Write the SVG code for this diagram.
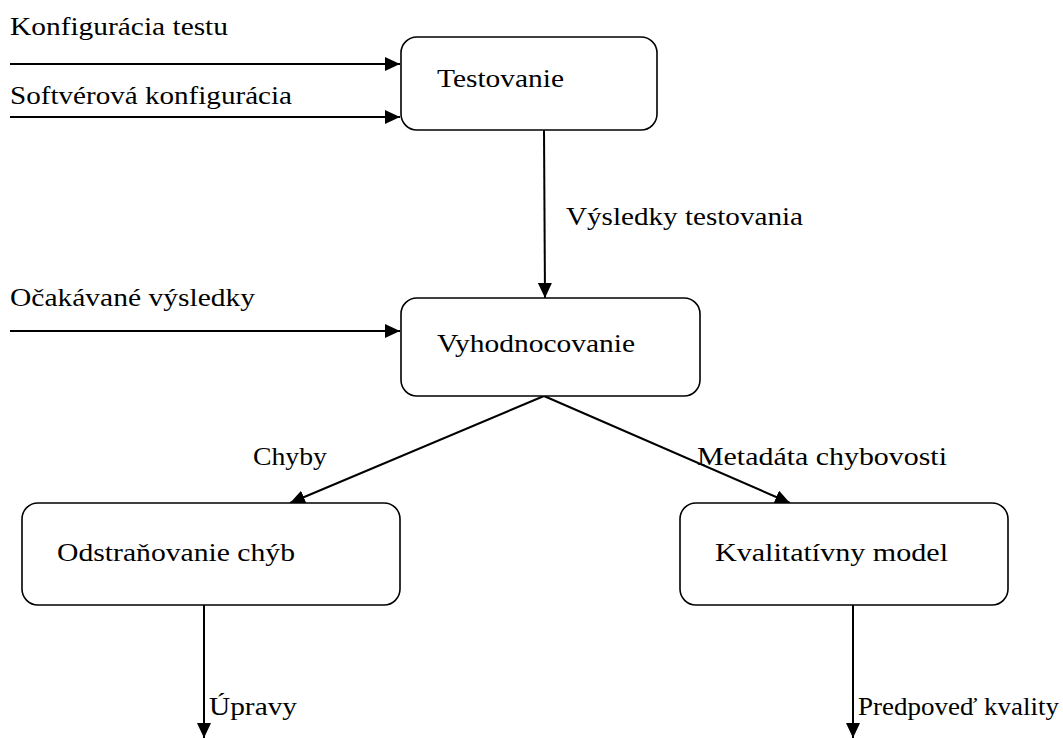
<svg xmlns="http://www.w3.org/2000/svg" width="1063" height="738" viewBox="0 0 1063 738">
<style>
.box{fill:#fff;stroke:#000;stroke-width:1.6}
.edge{stroke:#000;stroke-width:2;fill:none}
text{font-family:"Liberation Serif","DejaVu Serif",serif;font-size:25px;fill:#000}
</style>
<defs>
<marker id="ah" markerUnits="userSpaceOnUse" markerWidth="16" markerHeight="14" refX="15" refY="7" orient="auto">
<path d="M0,0 L15,7 L0,14 z" fill="#000"/>
</marker>
</defs>
<rect width="1063" height="738" fill="#fff"/>
<g id="connectors">
<line class="edge" x1="10" y1="64" x2="400" y2="64" marker-end="url(#ah)"/>
<line class="edge" x1="10" y1="117" x2="400" y2="117" marker-end="url(#ah)"/>
<line class="edge" x1="544" y1="130" x2="545" y2="298" marker-end="url(#ah)"/>
<line class="edge" x1="10" y1="331" x2="400" y2="331" marker-end="url(#ah)"/>
<line class="edge" x1="544" y1="396" x2="290" y2="503" marker-end="url(#ah)"/>
<line class="edge" x1="544" y1="396" x2="790" y2="503" marker-end="url(#ah)"/>
<line class="edge" x1="204" y1="605" x2="204" y2="738" marker-end="url(#ah)"/>
<line class="edge" x1="853" y1="605" x2="853" y2="738" marker-end="url(#ah)"/>
<text x="10" y="35" textLength="218" lengthAdjust="spacingAndGlyphs">Konfigurácia testu</text>
<text x="10" y="104" textLength="282" lengthAdjust="spacingAndGlyphs">Softvérová konfigurácia</text>
<text x="566" y="225" textLength="237" lengthAdjust="spacingAndGlyphs">Výsledky testovania</text>
<text x="10" y="306" textLength="245" lengthAdjust="spacingAndGlyphs">Očakávané výsledky</text>
<text x="253" y="465" textLength="74" lengthAdjust="spacingAndGlyphs">Chyby</text>
<text x="697" y="465" textLength="250" lengthAdjust="spacingAndGlyphs">Metadáta chybovosti</text>
<text x="209" y="715" textLength="88" lengthAdjust="spacingAndGlyphs">Úpravy</text>
<text x="858" y="715" textLength="201" lengthAdjust="spacingAndGlyphs">Predpoveď kvality</text>
</g>
<g id="testovanie">
<rect class="box" x="401" y="37" width="256" height="93" rx="16"/>
<text x="437" y="87" textLength="127" lengthAdjust="spacingAndGlyphs">Testovanie</text>
</g>
<g id="vyhodnocovanie">
<rect class="box" x="401" y="298" width="299" height="98" rx="16"/>
<text x="437" y="352" textLength="198" lengthAdjust="spacingAndGlyphs">Vyhodnocovanie</text>
</g>
<g id="odstranovanie">
<rect class="box" x="22" y="503" width="378" height="102" rx="16"/>
<text x="57" y="561" textLength="238" lengthAdjust="spacingAndGlyphs">Odstraňovanie chýb</text>
</g>
<g id="kvalitativny">
<rect class="box" x="680" y="503" width="328" height="102" rx="16"/>
<text x="715" y="561" textLength="233" lengthAdjust="spacingAndGlyphs">Kvalitatívny model</text>
</g>
</svg>
